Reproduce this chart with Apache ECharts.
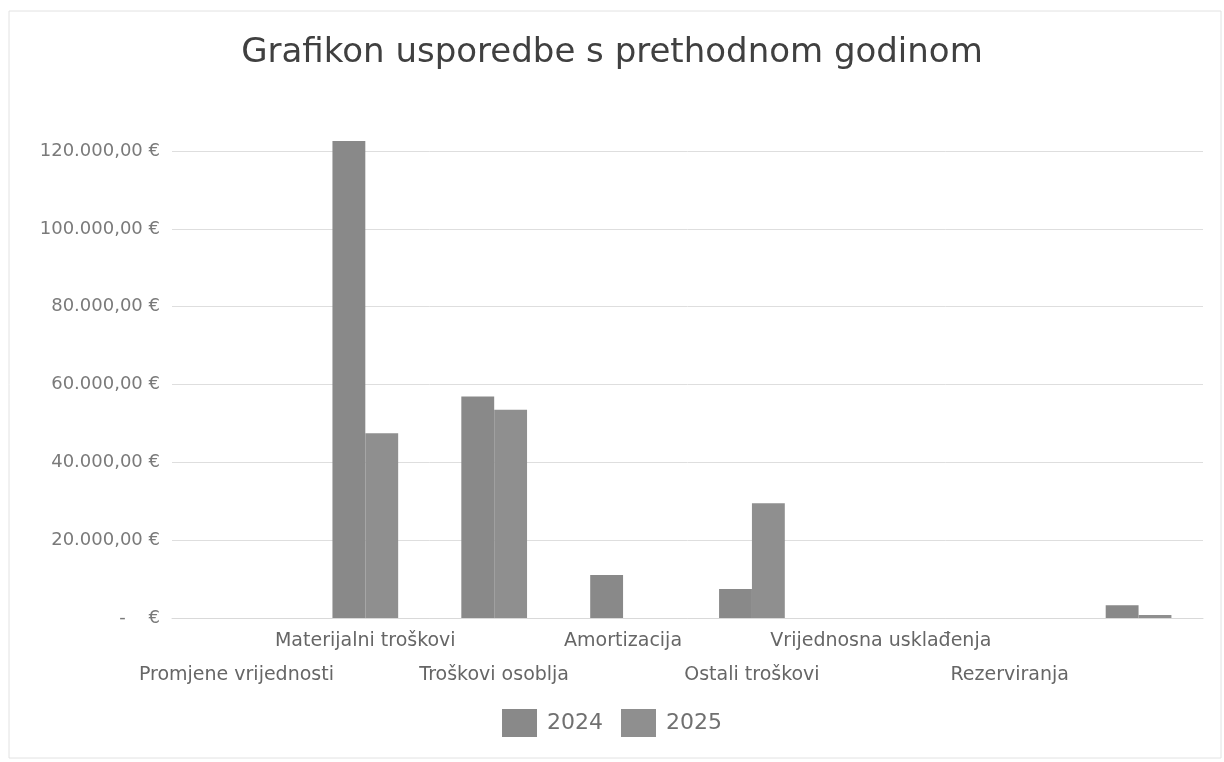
<!DOCTYPE html>
<html>
<head>
<meta charset="utf-8">
<style>
html,body{margin:0;padding:0;background:#fff;}
#chart{width:1224px;height:762px;}
</style>
<script src="https://cdn.jsdelivr.net/npm/echarts@6/dist/echarts.min.js"></script>
</head>
<body>
<div id="chart"></div>
<script>
const titleText = 'Grafikon usporedbe s prethodnom godinom';
const categories = ['Promjene vrijednosti', 'Materijalni troškovi', 'Troškovi osoblja', 'Amortizacija', 'Ostali troškovi', 'Vrijednosna usklađenja', 'Rezerviranja', ''];
const seriesNames = ['2024', '2025'];
const values2024 = [0, 122600, 56900, 11050, 7450, 0, 0, 3300];
const values2025 = [0, 47500, 53500, 0, 29500, 0, 0, 800];
const yTicks = [0, 20000, 40000, 60000, 80000, 100000, 120000];

function fmtEuro(v) {
  if (v === 0) return '-    €';
  const s = Math.round(v).toString().replace(/\B(?=(\d{3})+(?!\d))/g, '.');
  return s + ',00 €';
}

const chart = echarts.init(document.getElementById('chart'));
chart.setOption({
  backgroundColor: '#ffffff',
  animation: false,
  title: {
    text: titleText,
    left: 'center',
    top: 31,
    textStyle: { fontFamily: 'DejaVu Sans', fontSize: 34, fontWeight: 'normal', color: '#404040' }
  },
  graphic: [{
    type: 'rect',
    shape: { x: 9, y: 11, width: 1212, height: 747 },
    style: { fill: 'none', stroke: '#e2e2e2', lineWidth: 1 },
    silent: true
  }],
  legend: {
    data: seriesNames,
    top: 704,
    left: 'center',
    itemWidth: 35,
    itemHeight: 28,
    itemGap: 18,
    icon: 'rect',
    textStyle: { fontFamily: 'DejaVu Sans', fontSize: 22, color: '#707070', padding: [0, 0, 0, 5] }
  },
  grid: { left: 172, right: 21, top: 151, bottom: 144, containLabel: false },
  xAxis: {
    type: 'category',
    data: categories,
    axisLine: { show: true, lineStyle: { color: '#d9d9d9', width: 1 } },
    axisTick: { show: false },
    axisLabel: {
      interval: 0,
      margin: 6,
      fontFamily: 'DejaVu Sans',
      fontSize: 19,
      lineHeight: 34,
      color: '#666666',
      formatter: function (v, i) { return i % 2 === 0 ? '\n' + v : v; }
    }
  },
  yAxis: {
    type: 'value',
    min: yTicks[0],
    max: yTicks[yTicks.length - 1],
    interval: yTicks[1] - yTicks[0],
    axisLine: { show: false },
    axisTick: { show: false },
    splitLine: { lineStyle: { color: '#dedede', width: 1 } },
    axisLabel: {
      margin: 12,
      fontFamily: 'DejaVu Sans',
      fontSize: 18,
      color: '#7a7a7a',
      formatter: fmtEuro
    }
  },
  series: [
    {
      name: seriesNames[0],
      type: 'bar',
      data: values2024,
      clip: false,
      barGap: '0%',
      barCategoryGap: '49%',
      itemStyle: { color: '#898989' }
    },
    {
      name: seriesNames[1],
      type: 'bar',
      data: values2025,
      clip: false,
      barGap: '0%',
      barCategoryGap: '49%',
      itemStyle: { color: '#8f8f8f' }
    }
  ]
});
</script>
</body>
</html>
